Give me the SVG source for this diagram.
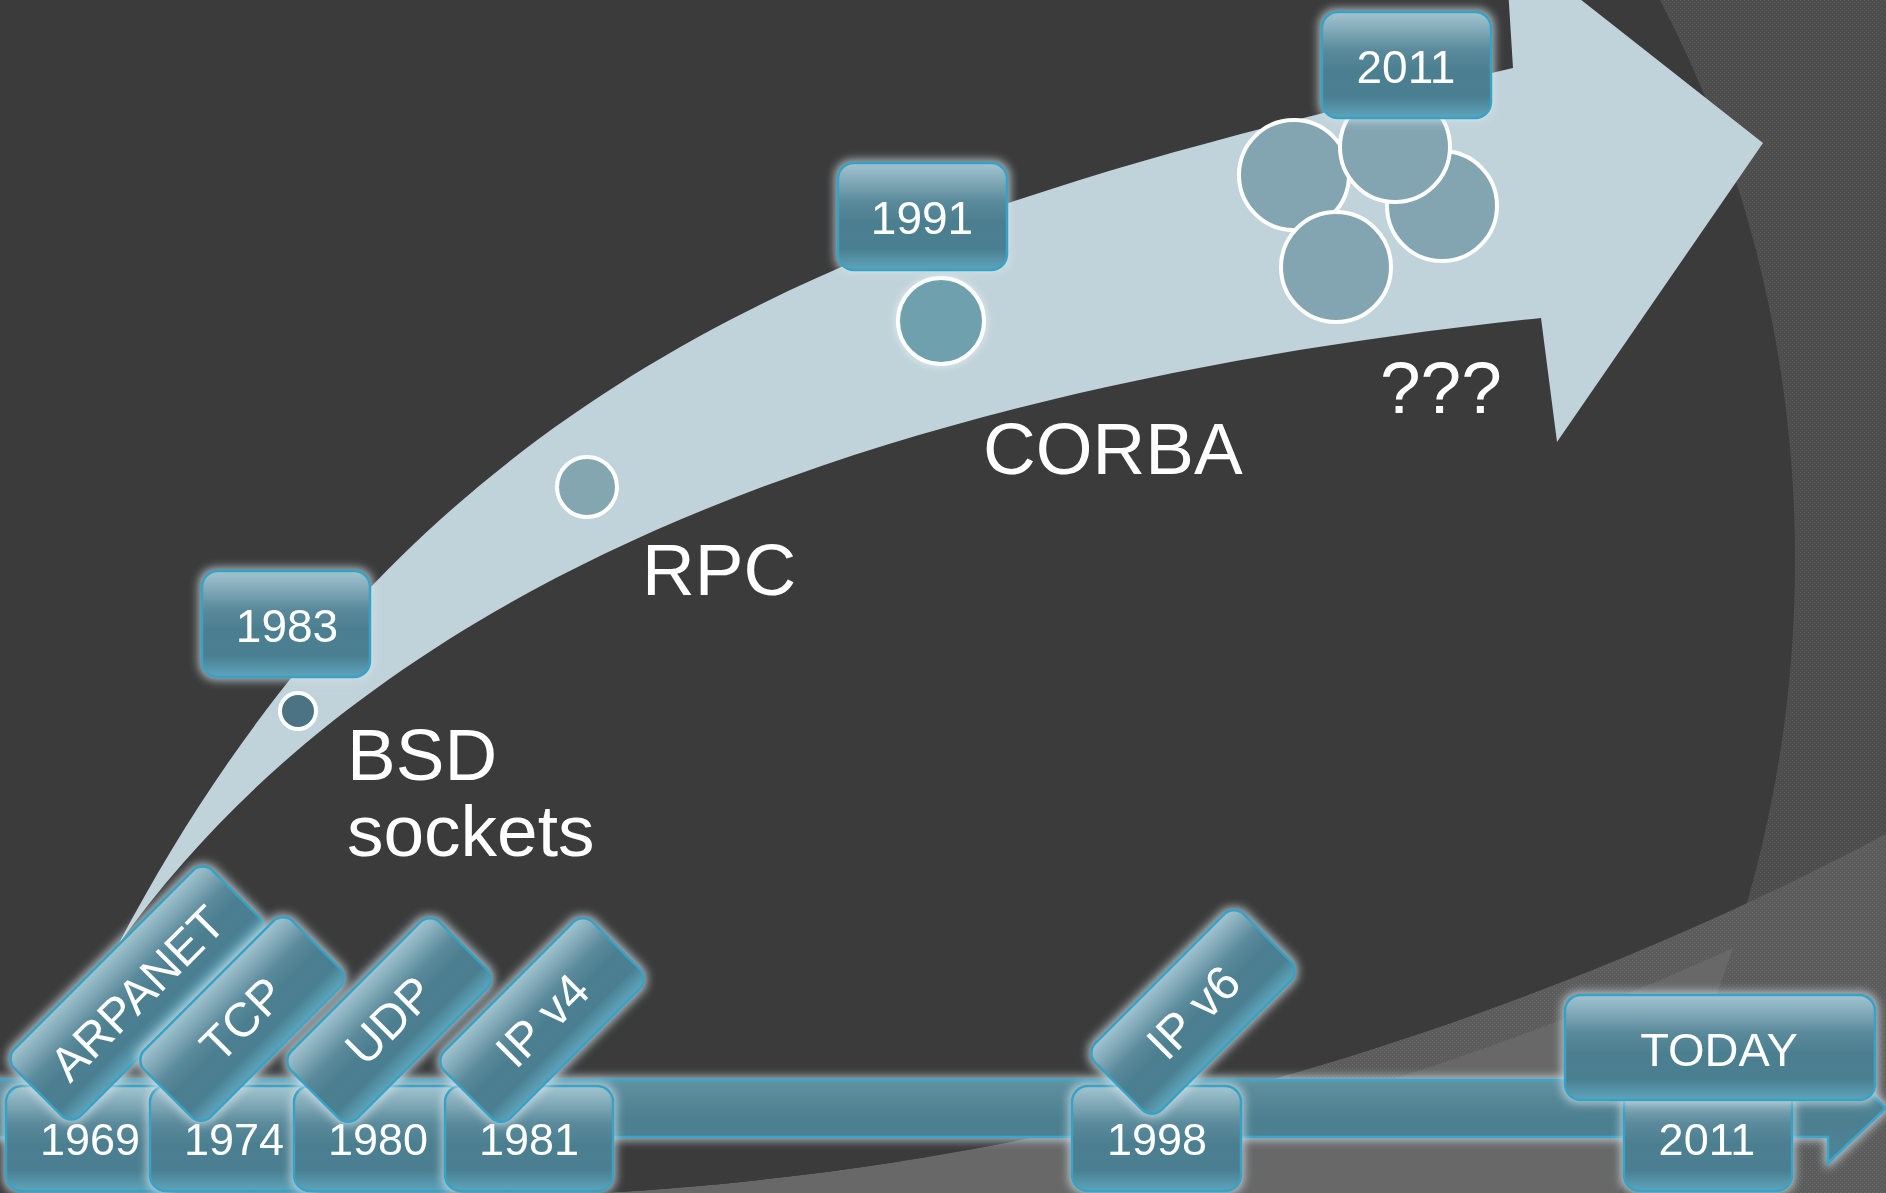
<svg xmlns="http://www.w3.org/2000/svg" width="1886" height="1193" viewBox="0 0 1886 1193">
  <defs>
    <style>
      .box { fill: url(#boxGrad); stroke: #38a2c6; stroke-width: 2.5; }
      .t { font-family: 'Liberation Sans', Arial, sans-serif; fill: #ffffff; text-anchor: middle; }
      .yr { font-size: 46px; }
      .rot { font-size: 48px; }
      .lbl { font-family: 'Liberation Sans', Arial, sans-serif; fill: #ffffff; font-size: 73px; }
      .dot { stroke: #ffffff; stroke-width: 4; }
    </style>
    <linearGradient id="boxGrad" x1="0" y1="0" x2="0" y2="1">
      <stop offset="0" stop-color="#a2c5d0"/>
      <stop offset="0.18" stop-color="#80a8b6"/>
      <stop offset="0.36" stop-color="#5a8a9b"/>
      <stop offset="0.55" stop-color="#4b7f90"/>
      <stop offset="0.8" stop-color="#4a7f91"/>
      <stop offset="1" stop-color="#5ea5bc"/>
    </linearGradient>
    <linearGradient id="barGrad" x1="0" y1="0" x2="0" y2="1">
      <stop offset="0" stop-color="#86aebb"/>
      <stop offset="0.3" stop-color="#5e8e9e"/>
      <stop offset="0.6" stop-color="#4c7f90"/>
      <stop offset="1" stop-color="#4d8597"/>
    </linearGradient>
    <pattern id="texA" width="4" height="4" patternUnits="userSpaceOnUse">
      <rect width="4" height="4" fill="#4d4d4d"/>
      <rect width="1" height="1" fill="#5a5a5a"/>
      <rect x="2" y="2" width="1" height="1" fill="#5a5a5a"/>
    </pattern>
    <pattern id="texB" width="4" height="4" patternUnits="userSpaceOnUse">
      <rect width="4" height="4" fill="#5c5c5c"/>
      <rect width="1" height="1" fill="#696969"/>
      <rect x="2" y="2" width="1" height="1" fill="#696969"/>
    </pattern>
    <filter id="glow" x="-30%" y="-30%" width="160%" height="160%" color-interpolation-filters="sRGB">
      <feMorphology in="SourceAlpha" operator="dilate" radius="2"/>
      <feGaussianBlur stdDeviation="5" result="b"/>
      <feFlood flood-color="#cfe0e6" flood-opacity="0.8"/>
      <feComposite in2="b" operator="in" result="g"/>
      <feMerge><feMergeNode in="g"/><feMergeNode in="SourceGraphic"/></feMerge>
    </filter>
    <filter id="softGlow" x="-30%" y="-30%" width="160%" height="160%" color-interpolation-filters="sRGB">
      <feGaussianBlur in="SourceAlpha" stdDeviation="4" result="b"/>
      <feFlood flood-color="#e6f0f3" flood-opacity="0.9"/>
      <feComposite in2="b" operator="in" result="g"/>
      <feMerge><feMergeNode in="g"/><feMergeNode in="SourceGraphic"/></feMerge>
    </filter>
    <clipPath id="aboveC">
      <path d="M0,0 H1886 V834 C1620,975 1150,1170 560,1195 L0,1195 Z"/>
    </clipPath>
    <clipPath id="belowC">
      <path d="M1886,834 C1620,975 1150,1170 560,1195 L1886,1195 Z"/>
    </clipPath>
    <clipPath id="rightHalf">
      <rect x="900" y="0" width="986" height="1193"/>
    </clipPath>
    <clipPath id="bandX">
      <rect x="1290" y="800" width="470" height="300"/>
    </clipPath>
  </defs>

  <!-- backdrop -->
  <g id="backdrop">
    <rect width="1886" height="1193" fill="#686868"/>
    <g clip-path="url(#rightHalf)">
      <path fill="url(#texB)" fill-rule="evenodd" d="M900,-10 H1896 V1203 H900 Z M1795,560 A895,1060 0 1 0 5,560 A895,1060 0 1 0 1795,560 Z"/>
    </g>
    <g clip-path="url(#belowC)">
      <g clip-path="url(#bandX)">
        <path d="M1886,834 C1620,975 1150,1170 560,1195" fill="none" stroke="url(#texB)" stroke-width="70"/>
      </g>
    </g>
    <g clip-path="url(#aboveC)">
      <rect width="1886" height="1193" fill="url(#texA)"/>
      <rect x="0" y="0" width="900" height="1193" fill="#3b3b3b"/>
      <ellipse cx="900" cy="560" rx="895" ry="1060" fill="#3b3b3b"/>
    </g>
  </g>

  <!-- curved progress arrow -->
  <g id="bigArrow">
    <path fill="#c1d3da" d="M118,945 C438,337 913,206 1513,68 L1505,-60 L1763,143 L1557,442 L1541,318 C841,392 368,595 118,945 Z"/>
  </g>

  <!-- milestone dots on the arrow -->
  <g id="dot-bsd"><circle class="dot" cx="298" cy="711" r="18" fill="#4b7383"/></g>
  <g id="dot-rpc"><circle class="dot" cx="587" cy="487" r="30" fill="#84a6b1"/></g>
  <g id="dot-corba" filter="url(#softGlow)"><circle class="dot" cx="941" cy="321" r="43" fill="#6ea0ae"/></g>
  <g id="dot-cluster">
    <circle class="dot" cx="1294" cy="175" r="55" fill="#83a5b1" stroke-width="5"/>
    <circle class="dot" cx="1442" cy="206" r="55" fill="#83a5b1" stroke-width="5"/>
    <circle class="dot" cx="1395" cy="147" r="55" fill="#83a5b1" stroke-width="5"/>
    <circle class="dot" cx="1336" cy="267" r="55" fill="#83a5b1" stroke-width="5"/>
  </g>

  <!-- year tags on the arrow -->
  <g id="tag-1983" filter="url(#glow)">
    <rect class="box" x="202" y="571" width="168" height="106" rx="16"/>
    <text class="t yr" x="287" y="642">1983</text>
  </g>
  <g id="tag-1991" filter="url(#glow)">
    <rect class="box" x="838" y="163" width="169" height="107" rx="16"/>
    <text class="t yr" x="922" y="234">1991</text>
  </g>
  <g id="tag-2011-top" filter="url(#glow)">
    <rect class="box" x="1322" y="12" width="169" height="106" rx="16"/>
    <text class="t yr" x="1406" y="83">2011</text>
  </g>

  <!-- technology labels -->
  <g id="labels">
    <text class="lbl" x="347" y="780">BSD</text>
    <text class="lbl" x="347" y="856">sockets</text>
    <text class="lbl" x="642" y="595">RPC</text>
    <text class="lbl" x="983" y="474">CORBA</text>
    <text class="lbl" x="1380" y="413">???</text>
  </g>

  <!-- timeline bar -->
  <g id="timeline" filter="url(#glow)">
    <path d="M-10,1080 H1828 V1053 L1886,1108 L1828,1163 V1137 H-10 Z" fill="url(#barGrad)" stroke="#3aa6cb" stroke-width="2.5"/>
  </g>

  <!-- year boxes on the timeline -->
  <g id="y1969" filter="url(#glow)">
    <rect class="box" x="6" y="1086" width="168" height="105" rx="16"/>
    <text class="t" font-size="45" x="90" y="1155">1969</text>
  </g>
  <g id="y1974" filter="url(#glow)">
    <rect class="box" x="150" y="1086" width="168" height="105" rx="16"/>
    <text class="t" font-size="45" x="234" y="1155">1974</text>
  </g>
  <g id="y1980" filter="url(#glow)">
    <rect class="box" x="294" y="1086" width="168" height="105" rx="16"/>
    <text class="t" font-size="45" x="378" y="1155">1980</text>
  </g>
  <g id="y1981" filter="url(#glow)">
    <rect class="box" x="445" y="1086" width="168" height="105" rx="16"/>
    <text class="t" font-size="45" x="529" y="1155">1981</text>
  </g>
  <g id="y1998" filter="url(#glow)">
    <rect class="box" x="1072" y="1086" width="169" height="105" rx="16"/>
    <text class="t" font-size="45" x="1157" y="1155">1998</text>
  </g>
  <g id="y2011" filter="url(#glow)">
    <rect class="box" x="1624" y="1086" width="168" height="105" rx="16"/>
    <text class="t" font-size="45" x="1707" y="1155">2011</text>
  </g>

  <!-- tilted event tags -->
  <g id="ev-arpanet" filter="url(#glow)">
    <g transform="translate(137,993) rotate(-45)">
      <rect class="box" x="-140" y="-47" width="280" height="94" rx="14"/>
      <text class="t rot" x="0" y="17">ARPANET</text>
    </g>
  </g>
  <g id="ev-tcp" filter="url(#glow)">
    <g transform="translate(242,1019) rotate(-45)">
      <rect class="box" x="-105" y="-47" width="210" height="94" rx="14"/>
      <text class="t rot" x="0" y="17">TCP</text>
    </g>
  </g>
  <g id="ev-udp" filter="url(#glow)">
    <g transform="translate(389,1020) rotate(-45)">
      <rect class="box" x="-105" y="-47" width="210" height="94" rx="14"/>
      <text class="t rot" x="0" y="17">UDP</text>
    </g>
  </g>
  <g id="ev-ipv4" filter="url(#glow)">
    <g transform="translate(542,1020) rotate(-45)">
      <rect class="box" x="-105" y="-47" width="210" height="94" rx="14"/>
      <text class="t rot" x="0" y="17">IP v4</text>
    </g>
  </g>
  <g id="ev-ipv6" filter="url(#glow)">
    <g transform="translate(1193,1012) rotate(-45)">
      <rect class="box" x="-105" y="-47" width="210" height="94" rx="14"/>
      <text class="t rot" x="0" y="17">IP v6</text>
    </g>
  </g>

  <g id="today" filter="url(#glow)">
    <rect class="box" x="1565" y="995" width="310" height="105" rx="16"/>
    <text class="t" font-size="47" x="1719" y="1066">TODAY</text>
  </g>
</svg>
